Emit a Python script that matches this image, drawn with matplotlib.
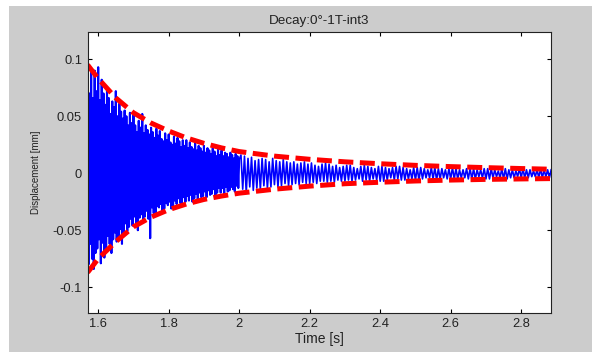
#decay plot of displacement signal with exponential envelope (MATLAB look)
import numpy as np
import matplotlib.pyplot as plt
from matplotlib.patches import Rectangle

plt.rcParams['font.family'] = ['Liberation Sans', 'DejaVu Sans']

#displacement signal in micrometres
#early part is sampled every 2.5 ms starting at 1.570 s
sig_early = [
    88, -80, 70, -62, 92, -75, 66, -84, 90, -70,
    72, -66, 93, -58, 64, -79, 82, -61, 70, -74,
    60, -68, 74, -55, 66, -62, 52, -70, 63, -58,
    58, -52, 72, -60, 50, -56, 61, -49, 54, -62,
    48, -53, 55, -44, 50, -51, 42, -47, 53, -40,
    44, -46, 51, -38, 42, -45, 36, -50, 46, -39,
    40, -36, 52, -41, 35, -38, 42, -33, 38, -40,
    34, -57, 40, -30, 36, -35, 31, -37, 39, -29,
    33, -30, 37, -27, 30, -34, 28, -31, 35, -26,
    29, -28, 34, -25, 27, -31, 25, -29, 32, -24,
    26, -27, 31, -22, 28, -26, 23, -28, 29, -21,
    24, -25, 29, -20, 22, -24, 27, -19, 23, -25,
    21, -22, 26, -18, 20, -23, 24, -17, 22, -21,
    19, -20, 24, -16, 18, -21, 22, -15, 20, -19,
    17, -18, 22, -14, 19, -19, 15, -17, 21, -13,
    16, -17, 20, -13, 15, -18, 18, -12, 17, -16,
    14, -15, 18, -12, 16, -14, 13, -16, 17, -11,
    15, -13, 12,
]
#late part is sampled every 5 ms starting at 2.005 s
sig_late = [
    16, -14, 15, -17, 13, -12, 14, -15, 11, -13,
    12, -14, 13, -11, 12, -13, 10, -12, 13, -10,
    11, -12, 10, -11, 12, -9, 10, -11, 9, -10,
    10, -9, 8, -10, 9, -8, 10, -9, 8, -9,
    9, -8, 7, -9, 6, -7, 8, -7, 9, -8,
    8, -7, 6, -8, 7, -6, 5, -7, 6, -7,
    7, -6, 7, -7, 5, -6, 4, -5, 6, -7,
    7, -6, 6, -7, 5, -5, 4, -6, 6, -7,
    6, -7, 5, -6, 4, -4, 5, -6, 6, -5,
    6, -6, 5, -6, 4, -5, 3, -5, 5, -6,
    5, -6, 5, -5, 4, -4, 3, -4, 5, -5,
    5, -6, 4, -5, 4, -4, 3, -5, 4, -5,
    5, -5, 4, -5, 3, -4, 3, -4, 4, -5,
    4, -5, 4, -5, 3, -3, 3, -4, 4, -5,
    4, -5, 4, -4, 3, -3, 2, -4, 4, -5,
    4, -5, 3, -4, 3, -4, 2, -3, 4, -4,
    4, -4, 3, -4, 3, -3, 2, -3, 3, -4,
    4, -4, 3, -3, 3, -4, 3,
]

#envelope curves (mm)
env_t = [1.57, 1.60, 1.65, 1.70, 1.75, 1.80, 1.85, 1.90, 1.95, 2.00,
         2.10, 2.20, 2.30, 2.40, 2.50, 2.60, 2.70, 2.80, 2.885]
env_upper = [0.095, 0.083, 0.066, 0.053, 0.044, 0.037, 0.031, 0.0262, 0.0222, 0.019,
             0.015, 0.0122, 0.010, 0.0083, 0.0069, 0.0058, 0.0049, 0.0041, 0.0035]
env_lower = [-0.087, -0.075, -0.060, -0.047, -0.0385, -0.032, -0.027, -0.023, -0.020, -0.0175,
             -0.014, -0.0113, -0.0092, -0.0079, -0.0068, -0.006, -0.0054, -0.005, -0.0047]

yticks = [-0.1, -0.05, 0, 0.05, 0.1]
ytick_labels = ["-0.1", "-0.05", "0", "0.05", "0.1"]
xticks = [1.6, 1.8, 2.0, 2.2, 2.4, 2.6, 2.8]
xtick_labels = ["1.6", "1.8", "2", "2.2", "2.4", "2.6", "2.8"]

t_early = 1.57 + 0.0025 * np.arange(len(sig_early))
t_late = 2.005 + 0.005 * np.arange(len(sig_late))
y_early = np.array(sig_early) / 1000.0
y_late = np.array(sig_late) / 1000.0

fig = plt.figure(figsize=(5.92, 3.52), dpi=100, facecolor='white')
#gray matlab figure background, kept behind the axes
bg = Rectangle((9 / 592, 0), 583 / 592, 346 / 352, transform=fig.transFigure,
               facecolor='#cccccc', edgecolor='none')
bg.set_zorder(-10)
fig.add_artist(bg)

ax = fig.add_axes([0.148, 0.111, 0.783, 0.797])
ax.set_facecolor('white')

#dense start drawn a bit heavier so it fills in like the original
ax.plot(t_early, y_early, color='#0000ff', linewidth=1.5)
ax.plot(np.r_[t_early[-1], t_late], np.r_[y_early[-1], y_late], color='#0000ff', linewidth=1.2)
for env in (env_upper, env_lower):
    line, = ax.plot(env_t, env, color='#ff0000', linewidth=3.6)
    line.set_dashes((3.0, 1.3))

ax.set_xlim(1.57, 2.885)
ax.set_ylim(-0.1225, 0.1235)
ax.set_xticks(xticks)
ax.set_xticklabels(xtick_labels)
ax.set_yticks(yticks)
ax.set_yticklabels(ytick_labels)
ax.tick_params(direction='in', length=3, width=0.8, top=True, right=True,
               labelsize=9.3, labelcolor='#222222', pad=4)
for s in ax.spines.values():
    s.set_linewidth(0.8)
    s.set_color('#222222')

ax.set_title("Decay:0°-1T-int3", fontsize=9.7, color='#222222', pad=6)
ax.set_xlabel("Time [s]", fontsize=10, color='#222222', labelpad=1)
ax.set_ylabel("Displacement [mm]", fontsize=7, color='#222222', labelpad=8)

fig.savefig("out.png", dpi=100, facecolor=fig.get_facecolor())
